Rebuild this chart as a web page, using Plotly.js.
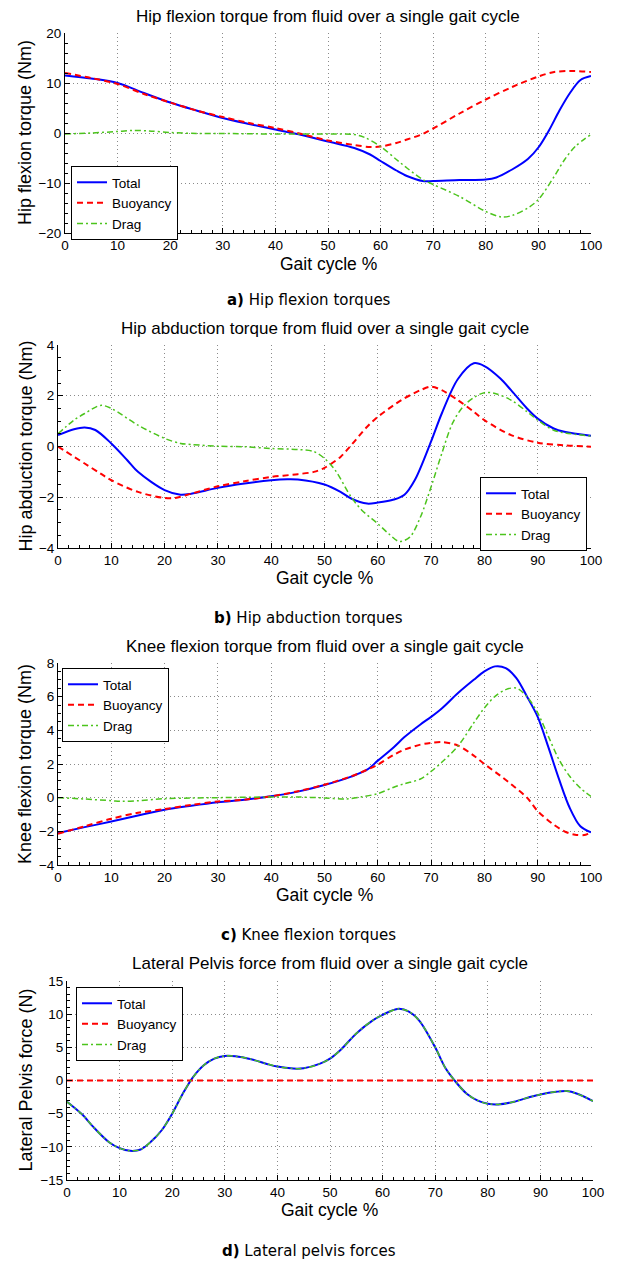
<!DOCTYPE html>
<html>
<head>
<meta charset="utf-8">
<script src="https://cdn.plot.ly/plotly-3.0.1.min.js"></script>
<style>html,body{margin:0;padding:0;background:#fff}#chart{width:617px;height:1261px}</style>
</head>
<body>
<div id="chart"></div>
<script>
// ---------- DATA ----------
const seriesNames = ["Total", "Buoyancy", "Drag"];

// a) Hip flexion torque (Nm)
const hipFlexTotalX = [0,5,10,15,20,25,30,35,40,45,50,55,58,60,63,65,68,70,75,80,82,85,88,90,92,94,96,98,100];
const hipFlexTotal  = [11.5,10.9,10.0,8.0,6.1,4.5,3.0,1.8,0.7,-0.4,-1.7,-3.0,-4.3,-5.6,-7.5,-8.6,-9.6,-9.6,-9.4,-9.3,-8.9,-7.3,-5.2,-2.9,0.5,4.5,8.0,10.6,11.4];
const hipFlexBuoyX  = [0,5,10,15,20,25,30,35,40,45,50,55,58,60,63,65,68,70,75,80,85,90,93,96,100];
const hipFlexBuoy   = [12.0,11.0,9.8,7.8,6.1,4.5,3.2,2.0,1.0,-0.2,-1.5,-2.4,-2.8,-2.7,-2.0,-1.3,-0.2,0.9,3.9,6.7,9.2,11.3,12.2,12.4,12.2];
const hipFlexDragX  = [0,5,10,13,16,20,25,30,40,50,55,57,60,63,65,68,70,75,80,83,85,88,90,93,95,97,100];
const hipFlexDrag   = [-0.2,0.0,0.3,0.5,0.4,0.1,-0.1,-0.1,-0.2,-0.2,-0.3,-0.9,-2.7,-5.3,-7.0,-9.3,-10.3,-12.7,-15.7,-16.8,-16.5,-15.0,-13.3,-8.7,-5.3,-2.7,-0.3];

// b) Hip abduction torque (Nm)
const hipAbdTotalX = [0,3,5,7,10,13,15,20,23,25,30,35,40,43,45,50,53,55,58,60,63,65,67,70,72,75,78,80,83,85,88,90,93,95,100];
const hipAbdTotal  = [0.45,0.68,0.75,0.65,0.12,-0.54,-1.0,-1.72,-1.9,-1.86,-1.63,-1.46,-1.33,-1.29,-1.3,-1.5,-1.79,-2.05,-2.25,-2.21,-2.09,-1.9,-1.3,0.2,1.3,2.65,3.28,3.17,2.68,2.22,1.5,1.1,0.71,0.58,0.42];
const hipAbdBuoyX  = [0,5,8,10,15,20,22,25,30,35,40,45,48,50,53,55,58,60,63,65,68,70,72,75,78,80,85,90,95,100];
const hipAbdBuoy   = [0,-0.67,-1.07,-1.33,-1.79,-2.03,-2.03,-1.86,-1.57,-1.37,-1.2,-1.09,-1.0,-0.84,-0.41,0.05,0.78,1.17,1.63,1.9,2.22,2.36,2.22,1.83,1.37,1.04,0.45,0.15,0.05,-0.01];
const hipAbdDragX  = [0,3,5,8,10,15,20,23,25,30,35,40,45,48,50,52,55,57,60,62,64,66,68,70,72,74,76,78,80,82,85,88,90,93,95,100];
const hipAbdDrag   = [0.5,1.04,1.3,1.62,1.5,0.84,0.32,0.12,0.08,0.01,-0.01,-0.08,-0.12,-0.2,-0.47,-0.93,-1.99,-2.51,-3.04,-3.43,-3.74,-3.57,-2.78,-1.59,-0.28,0.91,1.57,1.93,2.12,2.09,1.83,1.37,1.04,0.64,0.54,0.41];

// c) Knee flexion torque (Nm)
const kneeTotalX = [0,5,10,15,20,25,30,35,40,45,50,55,58,60,63,65,68,70,72,75,78,80,82,84,86,88,90,92,94,96,98,100];
const kneeTotal  = [-2.1,-1.75,-1.42,-1.06,-0.72,-0.48,-0.27,-0.12,0.08,0.36,0.75,1.25,1.66,2.2,3.0,3.6,4.35,4.8,5.3,6.2,7.0,7.5,7.8,7.7,7.1,6.0,4.8,3.0,1.1,-0.6,-1.7,-2.06];
const kneeBuoyX  = [0,5,10,15,20,25,30,35,40,45,50,55,58,60,63,65,68,70,72,75,78,80,83,85,88,90,93,95,97,99,100];
const kneeBuoy   = [-2.14,-1.7,-1.25,-0.9,-0.68,-0.43,-0.23,-0.12,0.08,0.38,0.77,1.27,1.66,1.96,2.55,2.85,3.15,3.25,3.3,3.1,2.5,2.0,1.3,0.8,0.0,-0.8,-1.6,-2.0,-2.2,-2.2,-2.0];
const kneeDragX  = [0,5,10,12,15,20,25,30,40,45,50,54,57,60,63,65,68,70,72,75,78,80,82,84,86,88,90,92,94,96,98,100];
const kneeDrag   = [0,-0.08,-0.18,-0.22,-0.18,-0.06,-0.02,0,0.04,0.04,-0.02,-0.08,0.05,0.24,0.62,0.83,1.11,1.56,2.1,3.05,4.44,5.33,6.02,6.42,6.51,6.0,5.03,3.64,2.26,1.27,0.57,0.08];

// d) Lateral pelvis force (N)
const pelvisX      = [0,3,5,8,10,12,14,16,18,20,22,24,26,28,30,32,35,38,40,43,45,48,50,52,55,58,60,63,65,67,70,72,74,76,78,80,82,85,88,90,93,95,97,100];
const pelvisTotal  = [-3.2,-5.2,-7.0,-9.3,-10.2,-10.6,-10.4,-9.2,-7.5,-5.0,-2.0,0.55,2.3,3.3,3.7,3.65,3.2,2.5,2.1,1.8,1.85,2.5,3.3,4.6,7.1,9.0,9.9,10.8,10.4,9.0,5.0,1.8,-0.3,-2.0,-3.0,-3.5,-3.6,-3.2,-2.5,-2.1,-1.7,-1.6,-2.0,-3.1];
const pelvisBuoyX  = [0,100];
const pelvisBuoy   = [0,0];
const pelvisDrag   = [-3.2,-5.2,-7.0,-9.3,-10.2,-10.6,-10.4,-9.2,-7.5,-5.0,-2.0,0.55,2.3,3.3,3.7,3.65,3.2,2.5,2.1,1.8,1.85,2.5,3.3,4.6,7.1,9.0,9.9,10.8,10.4,9.0,5.0,1.8,-0.3,-2.0,-3.0,-3.5,-3.6,-3.2,-2.5,-2.1,-1.7,-1.6,-2.0,-3.1];

const titles   = ["Hip flexion torque from fluid over a single gait cycle",
                  "Hip abduction torque from fluid over a single gait cycle",
                  "Knee flexion torque from fluid over a single gait cycle",
                  "Lateral Pelvis force from fluid over a single gait cycle"];
const yTitles  = ["Hip flexion torque (Nm)", "Hip abduction torque (Nm)", "Knee flexion torque (Nm)", "Lateral Pelvis force (N)"];
const xTitle   = "Gait cycle %";
const captionLetters = ["a)", "b)", "c)", "d)"];
const captionTexts   = ["Hip flexion torques", "Hip abduction torques", "Knee flexion torques", "Lateral pelvis forces"];

// ---------- LAYOUT ----------
const W = 617, H = 1261;
const fx = p => p / W;
const fy = p => 1 - p / H;
const FONT = "Liberation Sans, Arial, sans-serif";
const CAPFONT = "DejaVu Sans, Verdana, sans-serif";

const panels = [
  {x:[65,591], y:[33,233],  yr:[-20,20], dt:10, mdt:2,   titleY:17,  xtY:264,  capY:300,
   series:[[hipFlexTotalX,hipFlexTotal],[hipFlexBuoyX,hipFlexBuoy],[hipFlexDragX,hipFlexDrag]],
   leg:{x:71, y:166, xanchor:"left"}},
  {x:[58,591], y:[345,548], yr:[-4,4], dt:2, mdt:0.5,    titleY:329, xtY:578,  capY:618,
   series:[[hipAbdTotalX,hipAbdTotal],[hipAbdBuoyX,hipAbdBuoy],[hipAbdDragX,hipAbdDrag]],
   leg:{x:587, y:477, xanchor:"right"}},
  {x:[58,591], y:[663,865], yr:[-4,8], dt:2, mdt:0.5,    titleY:646, xtY:895,  capY:935,
   series:[[kneeTotalX,kneeTotal],[kneeBuoyX,kneeBuoy],[kneeDragX,kneeDrag]],
   leg:{x:62, y:668, xanchor:"left"}},
  {x:[67,593], y:[981,1180], yr:[-15,15], dt:5, mdt:1,   titleY:964, xtY:1210, capY:1251,
   series:[[pelvisX,pelvisTotal],[pelvisBuoyX,pelvisBuoy],[pelvisX,pelvisDrag]],
   leg:{x:76, y:987, xanchor:"left"}}
];

const styles = [
  {color:"#0000ff", width:2,   dash:"solid"},
  {color:"#ff0000", width:2,   dash:"6px,4px"},
  {color:"#4cc41c", width:1.5, dash:"6px,3px,2px,3px"}
];

const data = [];
const layout = {
  width: W, height: H,
  margin: {l:0, r:0, t:0, b:0},
  paper_bgcolor: "#fff", plot_bgcolor: "#fff",
  showlegend: true,
  hovermode: false,
  annotations: []
};

panels.forEach((p, i) => {
  const n = i === 0 ? "" : String(i + 1);
  const xa = "xaxis" + n, ya = "yaxis" + n, lg = "legend" + n;
  const common = {
    showline: true, linecolor: "#000", linewidth: 1,
    ticks: "inside", ticklen: 5, tickcolor: "#000",
    showgrid: true, gridcolor: "#8a8a8a", griddash: "1px,3px", gridwidth: 1,
    zeroline: false,
    tickfont: {family: FONT, size: 13.5, color: "#000"},
    minor: {ticks: "inside", ticklen: 3, tickcolor: "#000", showgrid: false}
  };
  layout[xa] = Object.assign({}, common, {
    domain: [fx(p.x[0]), fx(p.x[1])], range: [0, 100], dtick: 10, tick0: 0,
    anchor: "y" + n, minor: Object.assign({}, common.minor, {dtick: 2})
  });
  layout[ya] = Object.assign({}, common, {
    domain: [fy(p.y[1]), fy(p.y[0])], range: p.yr, dtick: p.dt, tick0: 0,
    anchor: "x" + n, minor: Object.assign({}, common.minor, {dtick: p.mdt})
  });
  layout[lg] = {
    x: fx(p.leg.x), y: fy(p.leg.y), xanchor: p.leg.xanchor, yanchor: "top",
    xref: "paper", yref: "paper",
    bgcolor: "#fff", bordercolor: "#000", borderwidth: 1,
    font: {family: FONT, size: 13.5, color: "#000"},
    itemwidth: 30, tracegroupgap: 0
  };
  p.series.forEach((s, k) => {
    data.push({
      type: "scatter", mode: "lines",
      x: s[0], y: s[1], name: seriesNames[k],
      xaxis: "x" + n, yaxis: "y" + n, legend: lg,
      line: Object.assign({shape: "spline", smoothing: 0.9}, styles[k]),
      hoverinfo: "skip"
    });
  });
  const cx = (p.x[0] + p.x[1]) / 2;
  layout.annotations.push({
    xref: "paper", yref: "paper", x: fx(cx), y: fy(p.titleY), xanchor: "center", yanchor: "middle",
    text: titles[i], showarrow: false, font: {family: FONT, size: 17, color: "#000"}
  });
  layout.annotations.push({
    xref: "paper", yref: "paper", x: fx(cx), y: fy(p.xtY), xanchor: "center", yanchor: "middle",
    text: xTitle, showarrow: false, font: {family: FONT, size: 17.5, color: "#000"}
  });
  layout.annotations.push({
    xref: "paper", yref: "paper", x: fx(25), y: fy((p.y[0] + p.y[1]) / 2), xanchor: "center", yanchor: "middle",
    text: yTitles[i], textangle: -90, showarrow: false, font: {family: FONT, size: 18, color: "#000"}
  });
  layout.annotations.push({
    xref: "paper", yref: "paper", x: fx(W / 2), y: fy(p.capY), xanchor: "center", yanchor: "middle",
    text: "<b>" + captionLetters[i] + "</b> " + captionTexts[i], showarrow: false,
    font: {family: CAPFONT, size: 15, color: "#000"}
  });
});

Plotly.newPlot("chart", data, layout, {staticPlot: true, displayModeBar: false});
</script>
</body>
</html>
